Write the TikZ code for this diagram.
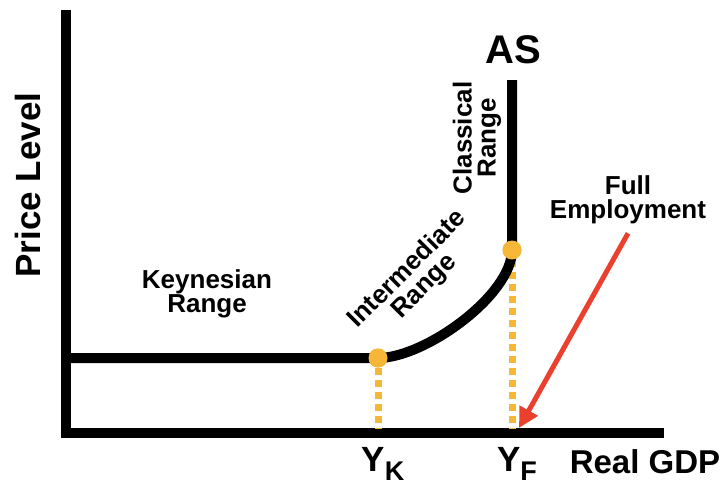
\documentclass[tikz,border=0pt]{standalone}
\usepackage{fontspec}
\setmainfont{Liberation Sans}
\usetikzlibrary{arrows.meta, positioning}
\definecolor{asgold}{RGB}{246, 183, 56}
\definecolor{fered}{RGB}{234, 64, 45}

\begin{document}
\begin{tikzpicture}[
    x=1pt, y=-1pt,
    axis/.style={line width=10pt},
    curve/.style={line width=10pt},
    guide/.style={line width=7pt, asgold, dash pattern=on 7pt off 5pt},
    dot/.style={circle, fill=asgold, inner sep=0pt, minimum size=19pt},
    rangelbl/.style={font=\fontsize{26}{24}\selectfont\bfseries, align=center, inner sep=0pt},
    biglbl/.style={font=\fontsize{35}{35}\selectfont\bfseries, inner sep=0pt},
    arrow/.style={-{Triangle[length=20pt, width=20pt]}, line width=5pt, fered}
]
    \useasboundingbox (0,0) rectangle (728,491);

    % Axes
    \coordinate (top) at (66,10);
    \coordinate (origin) at (66,433);
    \coordinate (right) at (664,433);
    \draw[axis] (top) -- (origin) -- (right);

    % AS curve
    \coordinate (start) at (61,358);
    \node[dot] (yk) at (378,358) {};
    \node[dot] (yf) at (512,250) {};
    \coordinate (peak) at (512,80);
    \coordinate (ykbase) at (378,428);
    \coordinate (yfbase) at (512,428);

    \draw[guide] (yk) -- (ykbase);
    \draw[guide] (yf) -- (yfbase);
    \draw[curve] (start) -- (yk.center)
        .. controls (425,358) and (512,295) .. (yf.center) -- (peak);
    \node[dot] at (yk) {};
    \node[dot] at (yf) {};

    % Axis labels
    \node[biglbl, rotate=90] (price) at (28,185) {Price Level};
    \node[biglbl, font=\fontsize{33}{33}\selectfont\bfseries] (gdp) at (645,462) {Real GDP};
    \node[biglbl, font=\fontsize{40}{40}\selectfont\bfseries] (as) at (513,50) {AS};
    \node[biglbl, anchor=north] (yklbl) at (383,447) {Y\raisebox{-9pt}{\fontsize{27}{27}\selectfont K}};
    \node[biglbl, anchor=north] (yflbl) at (517,447) {Y\raisebox{-9pt}{\fontsize{27}{27}\selectfont F}};

    % Ranges
    \node[rangelbl] (keynes) at (207,294) {Keynesian\\Range};
    \node[rangelbl, rotate=45] (inter) at (416,278) {Intermediate\\Range};
    \node[rangelbl, rotate=90] (classic) at (477,138) {Classical\\Range};

    % Full employment
    \node[rangelbl] (full) at (628,200) {Full\\Employment};
    \coordinate (fetip) at (519,428);
    \draw[arrow] ([yshift=-9pt]full.south) -- (fetip);
\end{tikzpicture}
\end{document}
